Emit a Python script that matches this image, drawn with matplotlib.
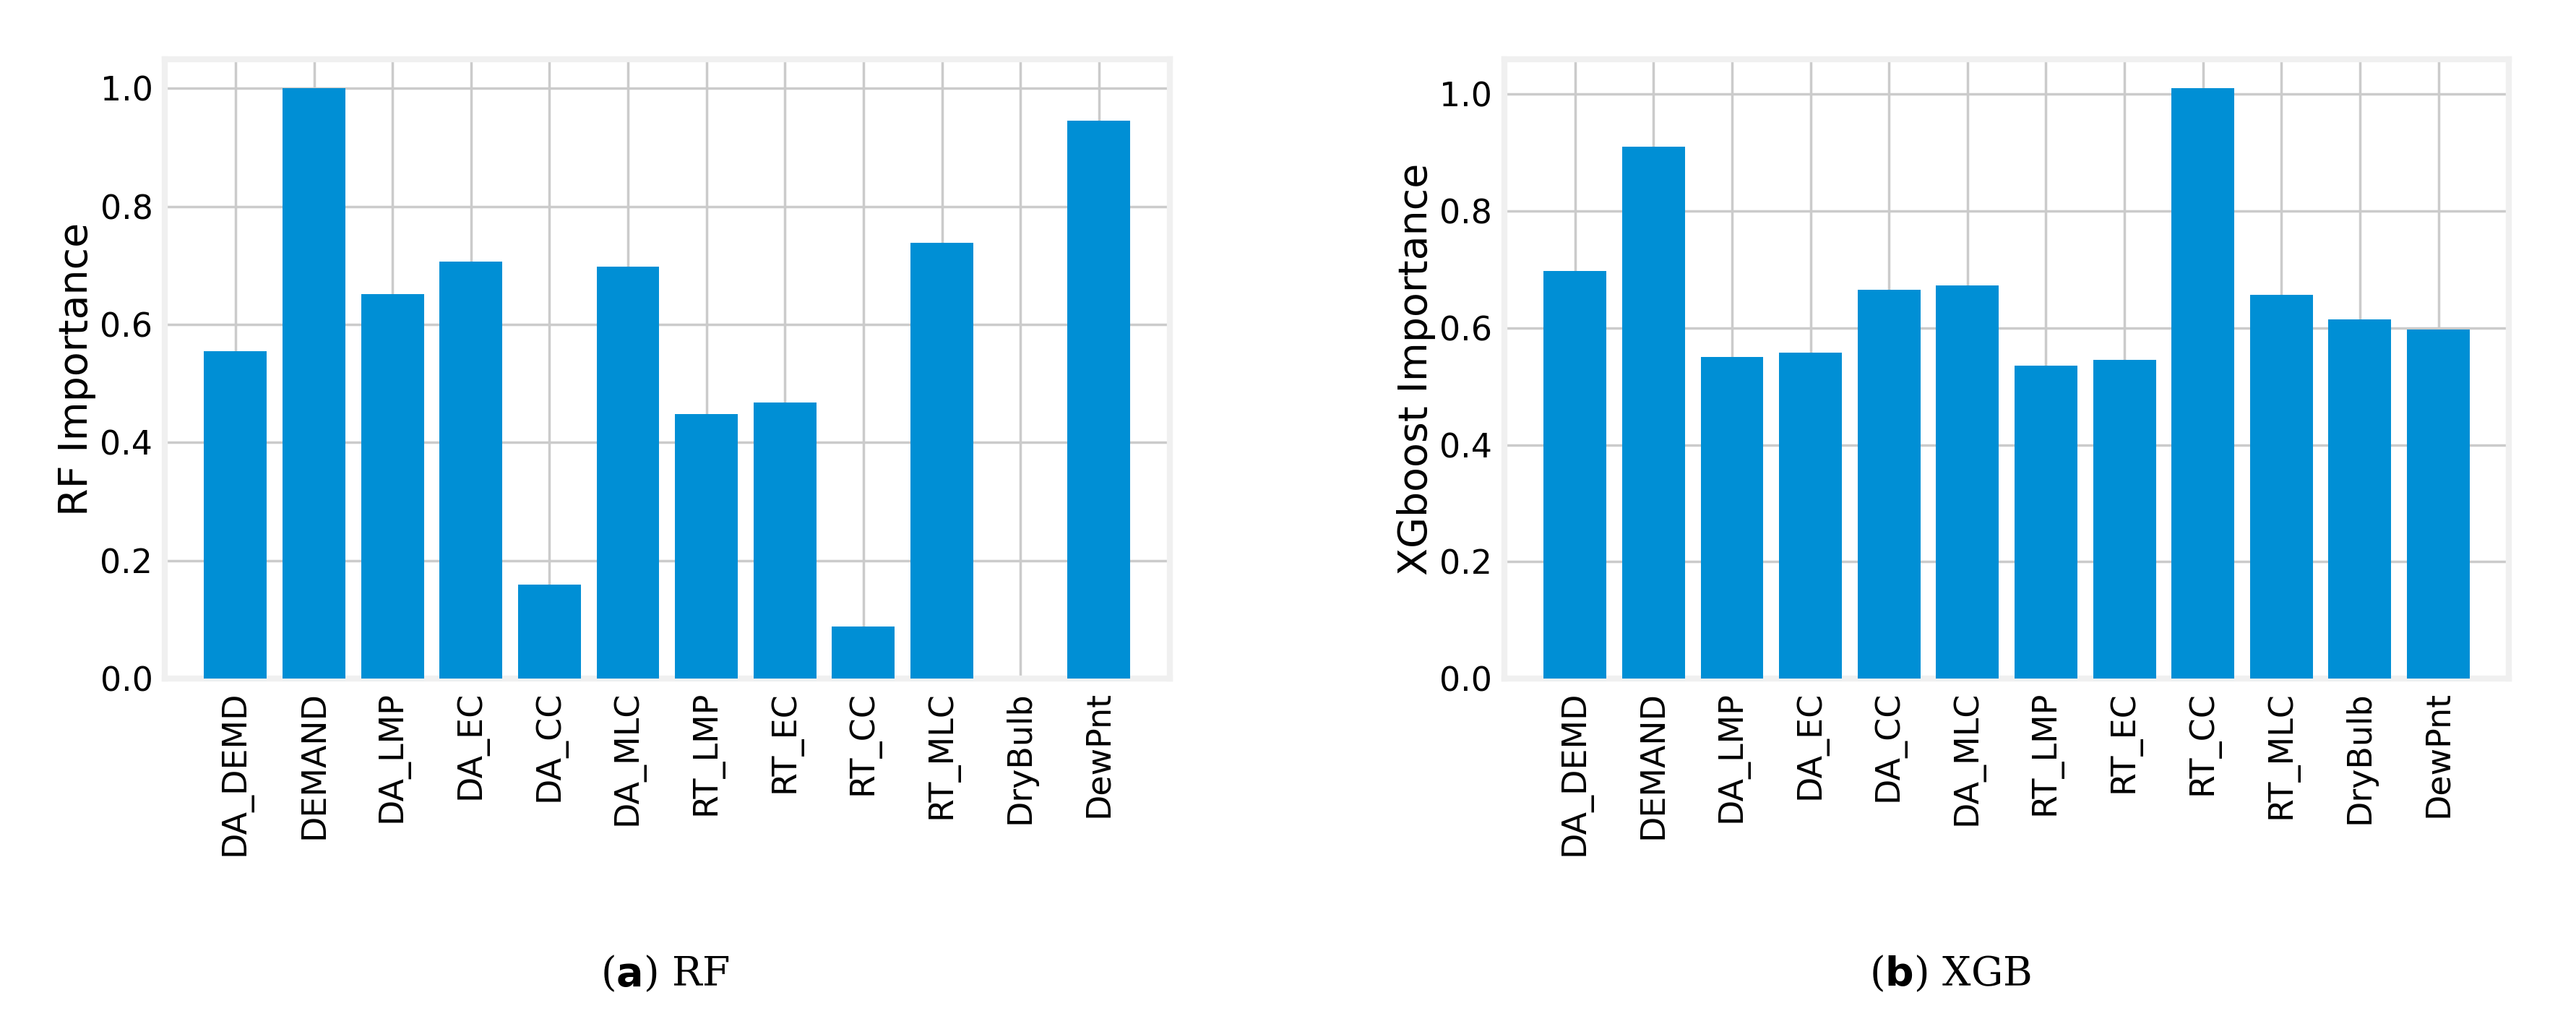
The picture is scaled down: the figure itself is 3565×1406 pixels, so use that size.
import matplotlib
matplotlib.use("Agg")
import matplotlib.pyplot as plt

features = ["DA_DEMD", "DEMAND", "DA_LMP", "DA_EC", "DA_CC", "DA_MLC",
            "RT_LMP", "RT_EC", "RT_CC", "RT_MLC", "DryBulb", "DewPnt"]
rf_importance = [0.555, 1.0, 0.652, 0.707, 0.16, 0.698, 0.448, 0.468, 0.088, 0.738, 0.0, 0.945]
xgb_importance = [0.697, 0.91, 0.55, 0.558, 0.665, 0.672, 0.535, 0.545, 1.01, 0.657, 0.615, 0.597]
rf_ticks = [0.0, 0.2, 0.4, 0.6, 0.8, 1.0]

plt.rcParams['font.family'] = ['DejaVu Sans']
fig = plt.figure(figsize=(35.65, 14.06), dpi=100, facecolor="white")
ax1 = fig.add_axes([0.064, 0.332, 0.39, 0.61])
ax2 = fig.add_axes([0.584, 0.332, 0.39, 0.61])

color = "#008fd5"
for ax, vals, label in [(ax1, rf_importance, "RF Importance"),
                        (ax2, xgb_importance, "XGboost Importance")]:
    ax.set_facecolor("white")
    ax.bar(range(len(features)), vals, color=color, width=0.8, zorder=3)
    ax.set_xticks(range(len(features)))
    ax.set_xticklabels(features, rotation=90, fontsize=33)
    ax.set_yticks(rf_ticks)
    ax.set_yticklabels([f"{t:.1f}" for t in rf_ticks], fontsize=33)
    ax.set_ylabel(label, fontsize=40)
    ax.grid(True, color="#cbcbcb", linewidth=2.5, zorder=0)
    ax.set_axisbelow(True)
    for s in ax.spines.values():
        s.set_color("#f0f0f0")
        s.set_linewidth(6)
    ax.tick_params(length=0, pad=12)
    ax.set_xlim(-0.9, 11.9)

ax1.set_ylim(0, 1.05)
ax2.set_ylim(0, 1.06)

fig.text(0.258, 0.03, r"($\mathbf{a}$) RF", ha="center", fontsize=40, family="DejaVu Serif")
fig.text(0.757, 0.03, r"($\mathbf{b}$) XGB", ha="center", fontsize=40, family="DejaVu Serif")

fig.savefig("out.png", dpi=100, facecolor="white")
